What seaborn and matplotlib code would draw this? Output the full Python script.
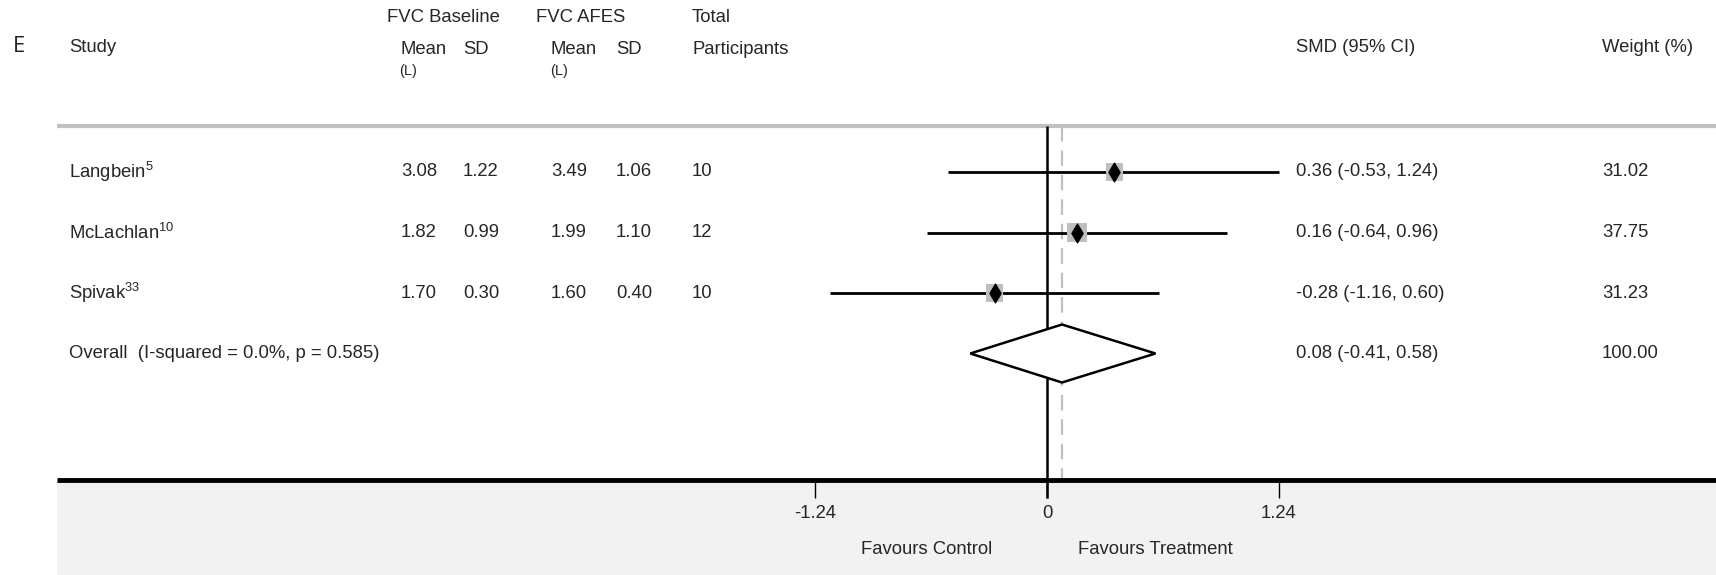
import numpy as np
import pandas as pd
import matplotlib
matplotlib.use("Agg")
import matplotlib.pyplot as plt
from matplotlib.patches import Rectangle, Polygon
import seaborn as sns

# data
studies = ["Langbein", "McLachlan", "Spivak"]
refs = ["5", "10", "33"]
base_mean = [3.08, 1.82, 1.70]
base_sd = [1.22, 0.99, 0.30]
afes_mean = [3.49, 1.99, 1.60]
afes_sd = [1.06, 1.10, 0.40]
total_n = [10, 12, 10]
smd = [0.36, 0.16, -0.28]
ci_lo = [-0.53, -0.64, -1.16]
ci_hi = [1.24, 0.96, 0.60]
weights = [31.02, 37.75, 31.23]

overall_smd = 0.08
overall_lo = -0.41
overall_hi = 0.58
overall_label = "Overall  (I-squared = 0.0%, p = 0.585)"

ticks = [-1.24, 0, 1.24]
tick_labels = ["-1.24", "0", "1.24"]

df = pd.DataFrame({
    "study": studies, "smd": smd, "lo": ci_lo, "hi": ci_hi,
    "weight": weights, "row": np.arange(len(studies)),
})

sns.set_style("white")
plt.rcParams["font.family"] = ["Liberation Sans", "DejaVu Sans"]
plt.rcParams["mathtext.default"] = "regular"

W, H = 1716, 575
fig = plt.figure(figsize=(W / 100, H / 100), dpi=100)
ax = fig.add_axes([0, 0, 1, 1])
ax.axis("off")

# pixel layout -> data scale
X0 = 1047      # pixel of SMD = 0
PPU = 187      # pixels per SMD unit
ROW0 = 172     # pixel row of first study
STEP = 60.5    # pixels between rows


def dx(px):
    return (px - X0) / PPU


def dy(py):
    return (py - ROW0) / STEP


ax.set_xlim(dx(0), dx(W))
ax.set_ylim(dy(H), dy(0))

FS = 13.3
y_top = dy(126)
y_axis = dy(480)
left = dx(57)

# bottom shaded band + lines
ax.add_patch(Rectangle((left, y_axis), dx(W) - left, dy(H) - y_axis,
                       facecolor="#f2f2f2", edgecolor="none", zorder=0))
ax.plot([left, dx(W)], [y_top, y_top], color="#c0c0c0", lw=3, zorder=1,
        solid_capstyle="butt")
ax.plot([left, dx(W)], [y_axis, y_axis], color="black", lw=3.5, zorder=3,
        solid_capstyle="butt")

# null line and overall effect line
ax.vlines(0, y_top, y_axis, color="black", lw=1.8, zorder=2)
ax.vlines(overall_smd, y_top, y_axis, color="#c0c0c0", lw=1.6,
          linestyles=(0, (7, 4)), zorder=1)

# ticks
ax.vlines(ticks, y_axis, dy(498), color="black", lw=1.0, zorder=3)
ax.vlines(0, y_axis, dy(498), color="black", lw=1.8, zorder=3)
for t, lab in zip(ticks, tick_labels):
    ax.text(t, dy(513), lab, ha="center", va="center", fontsize=FS)
ax.text(dx(992), dy(550), "Favours Control", ha="right", va="center", fontsize=FS)
ax.text(dx(1078), dy(550), "Favours Treatment", ha="left", va="center", fontsize=FS)

# confidence intervals
ax.hlines(df["row"], df["lo"], df["hi"], color="black", lw=2, zorder=4)
# weight squares and point estimates
sns.scatterplot(data=df, x="smd", y="row", size="weight", sizes=(160, 200),
                marker="s", color="#bfbfbf", edgecolor="none", legend=False,
                ax=ax, zorder=5)
sns.scatterplot(data=df, x="smd", y="row", marker="d", s=95, color="black",
                edgecolor="black", legend=False, ax=ax, zorder=6)
ax.set_xlabel("")
ax.set_ylabel("")

# overall diamond
r_all = len(studies)
hh = 29 / STEP
ax.add_patch(Polygon([(overall_lo, r_all), (overall_smd, r_all - hh),
                      (overall_hi, r_all), (overall_smd, r_all + hh)],
                     closed=True, facecolor="white", edgecolor="black",
                     lw=1.8, zorder=6))


# header text
def ftxt(px, py, s, **kw):
    kw.setdefault("fontsize", FS)
    fig.text(px / W, 1 - py / H, s, va="center", ha="left", **kw)


ftxt(13, 46, "E", fontsize=16, family=["Open Sans", "DejaVu Sans"])
ftxt(69, 47, "Study")
ftxt(387, 18, "FVC Baseline")
ftxt(401, 49, "Mean")
ftxt(463, 49, "SD")
ftxt(399, 71, "(L)", fontsize=10.5)
ftxt(536, 18, "FVC AFES")
ftxt(551, 50, "Mean")
ftxt(616, 49, "SD")
ftxt(550, 71, "(L)", fontsize=10.5)
ftxt(692, 18, "Total")
ftxt(692, 49, "Participants")
ftxt(1296, 47, "SMD (95% CI)")
ftxt(1602, 47, "Weight (%)")

# row text
for i in range(len(studies)):
    y = df["row"][i]
    ax.text(dx(69), y, f"{studies[i]}$^{{{refs[i]}}}$", va="center", fontsize=FS)
    ax.text(dx(401), y, f"{base_mean[i]:.2f}", va="center", fontsize=FS)
    ax.text(dx(463), y, f"{base_sd[i]:.2f}", va="center", fontsize=FS)
    ax.text(dx(551), y, f"{afes_mean[i]:.2f}", va="center", fontsize=FS)
    ax.text(dx(616), y, f"{afes_sd[i]:.2f}", va="center", fontsize=FS)
    ax.text(dx(692), y, f"{total_n[i]}", va="center", fontsize=FS)
    ax.text(dx(1296), y, f"{smd[i]:.2f} ({ci_lo[i]:.2f}, {ci_hi[i]:.2f})",
            va="center", fontsize=FS)
    ax.text(dx(1602), y, f"{weights[i]:.2f}", va="center", fontsize=FS)

ax.text(dx(69), r_all, overall_label, va="center", fontsize=FS)
ax.text(dx(1296), r_all, f"{overall_smd:.2f} ({overall_lo:.2f}, {overall_hi:.2f})",
        va="center", fontsize=FS)
ax.text(dx(1602), r_all, f"{sum(weights):.2f}", va="center", fontsize=FS)

fig.savefig("out.png", dpi=100)
